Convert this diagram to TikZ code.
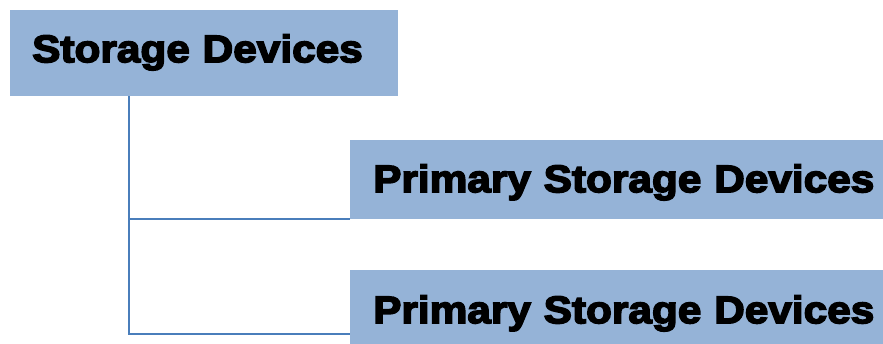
\documentclass[tikz,border=0pt]{standalone}
\usepackage{fontspec}
\setmainfont{Liberation Sans}
\newfontfamily\heavy{Liberation Sans}[BoldFeatures={FakeBold=4,FakeStretch=1.1}]
\definecolor{boxfill}{HTML}{95B3D7}
\definecolor{connline}{HTML}{4A7EBB}
\tikzset{
  box/.style={fill=boxfill, draw=none, anchor=north west, inner ysep=0pt,
    align=left, font=\heavy\bfseries\fontsize{38.5}{40}\selectfont, text=black},
  conn/.style={draw=connline, line width=2pt}
}
\begin{document}
\begin{tikzpicture}[x=1pt,y=-1pt]
\useasboundingbox (0,0) rectangle (883,343);
\node[box, inner xsep=22pt, text width=344pt, text height=52pt, text depth=34pt] (sd) at (10,10) {Storage Devices};
\node[box, inner xsep=23pt, text width=504pt, text height=52pt, text depth=27pt] (p1) at (350,140) {Primary Storage Devices};
\node[box, inner xsep=23pt, text width=504pt, text height=53pt, text depth=25pt] (p2) at (350,270) {Primary Storage Devices};
\draw[conn] ([xshift=118.5pt]sd.south west) |- (p1.south west);
\draw[conn] ([xshift=118.5pt]sd.south west) |- ([yshift=14pt]p2.south west);
\end{tikzpicture}
\end{document}
